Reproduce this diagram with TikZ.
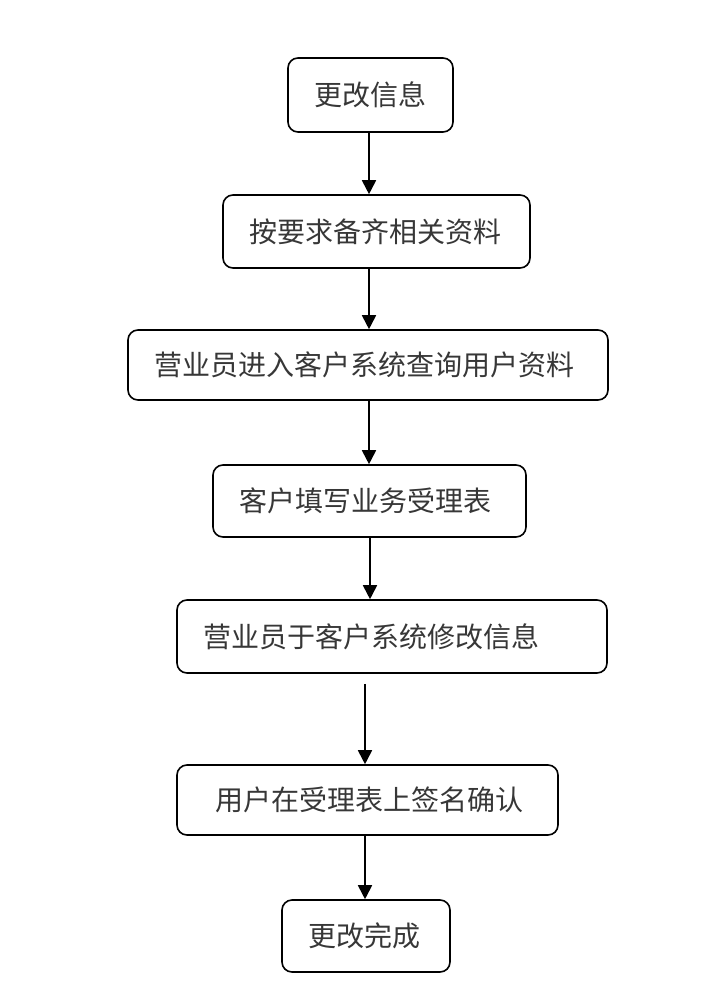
\documentclass[tikz,border=0pt]{standalone}
\usepackage{fontspec}
\usepackage{tikz}
\usetikzlibrary{arrows.meta}
\newfontfamily\cjk{Noto Sans CJK SC}
\definecolor{TextGray}{RGB}{55,55,55}

\begin{document}
\begin{tikzpicture}[x=1pt,y=-1pt,
  stepbox/.style={draw,line width=1.6pt,rounded corners=10pt,minimum height=72pt,inner xsep=26pt,inner ysep=0pt,align=left,text=TextGray,font=\cjk\fontsize{28}{32}\selectfont},
  flow/.style={-{Triangle[length=14pt,width=14pt]},line width=1.8pt}]
\useasboundingbox (0,0) rectangle (720,1003);
\node[stepbox,text width=113pt,minimum height=74pt] (b1) at (370.5,95) {更改信息};
\node[stepbox,text width=255pt,minimum height=73pt] (b2) at (376.5,231.5) {按要求备齐相关资料};
\node[stepbox,text width=428pt,minimum height=70pt] (b3) at (368,365) {营业员进入客户系统查询用户资料};
\node[stepbox,text width=261pt] (b4) at (369.5,501) {客户填写业务受理表};
\node[stepbox,text width=378pt,minimum height=73pt] (b5) at (392,636.5) {营业员于客户系统修改信息};
\node[stepbox,text width=329pt,minimum height=70pt] (b6) at (367.5,800) {\hspace*{12pt}用户在受理表上签名确认};
\node[stepbox,text width=116pt] (b7) at (366,936) {更改完成};
\draw[flow] ([xshift=-1.5pt]b1.south)--([xshift=-7.5pt]b2.north);
\draw[flow] ([xshift=-7.5pt]b2.south)--([xshift=1pt]b3.north);
\draw[flow] ([xshift=1pt]b3.south)--([xshift=-0.5pt]b4.north);
\draw[flow] ([xshift=0.5pt]b4.south)--([xshift=-22pt]b5.north);
\draw[flow,shorten <=10pt] ([xshift=-27pt]b5.south)--([xshift=-2.5pt]b6.north);
\draw[flow] ([xshift=-2.5pt]b6.south)--([xshift=-1pt]b7.north);
\end{tikzpicture}
\end{document}
